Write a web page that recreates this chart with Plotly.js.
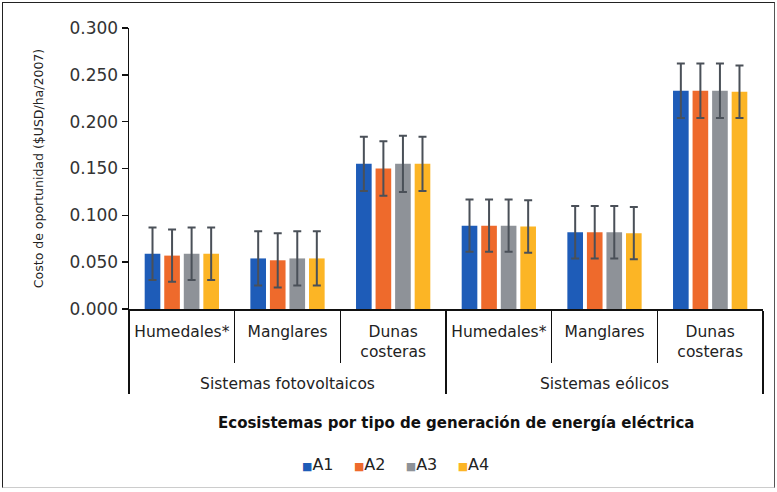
<!DOCTYPE html>
<html>
<head>
<meta charset="utf-8">
<script src="https://cdn.plot.ly/plotly-3.0.1.min.js"></script>
<style>
html,body{margin:0;padding:0;background:#fff;}
#wrap{position:relative;width:777px;height:492px;}
#frame{position:absolute;left:2px;top:2px;width:773px;height:486px;border:1.5px solid #222;border-bottom-color:#ccc;border-right-color:#555;pointer-events:none;box-sizing:border-box;}
</style>
</head>
<body>
<div id="wrap"><div id="chart" style="width:777px;height:492px;"></div><div id="frame"></div></div>
<script>
const groups = ["Sistemas fotovoltaicos","Sistemas fotovoltaicos","Sistemas fotovoltaicos","Sistemas eólicos","Sistemas eólicos","Sistemas eólicos"];
const ecosystems = ["Humedales*","Manglares","Dunas<br>costeras","Humedales*","Manglares","Dunas<br>costeras"];
const seriesNames = ["A1","A2","A3","A4"];
const A1 = [0.059,0.054,0.155,0.089,0.082,0.233];
const A2 = [0.057,0.052,0.150,0.089,0.082,0.233];
const A3 = [0.059,0.054,0.155,0.089,0.082,0.233];
const A4 = [0.059,0.054,0.155,0.088,0.081,0.232];
const err1 = [0.028,0.029,0.029,0.028,0.028,0.029];
const err2 = [0.028,0.029,0.029,0.028,0.028,0.029];
const err3 = [0.028,0.029,0.030,0.028,0.028,0.029];
const err4 = [0.028,0.029,0.029,0.028,0.028,0.028];
const colors = ["#1E5CB8","#EE6A2C","#8E9298","#FCB525"];

const values = [A1,A2,A3,A4];
const errs = [err1,err2,err3,err4];
const F = "DejaVu Sans, Arial, sans-serif";

// group labels pushed one line lower (blank first line)
const groupLabels = groups.map(g => "&nbsp;<br>" + g);

const traces = values.map((v,i)=>({
  type:"bar",
  name:seriesNames[i],
  x:[groupLabels, ecosystems],
  y:v,
  marker:{color:colors[i]},
  error_y:{type:"data",array:errs[i],visible:true,color:"#4a5058",thickness:2,width:4}
}));

const legendText = seriesNames.map((n,i)=>
  `<span style="color:${colors[i]};font-size:11px">■</span>${n}`).join("&nbsp;&nbsp;&nbsp;&nbsp;");

const layout = {
  width:777,height:492,
  margin:{l:129,r:14,t:28,b:183},
  paper_bgcolor:"#fff",plot_bgcolor:"#fff",
  barmode:"group",bargap:0.26,bargroupgap:0.2,
  font:{family:F,color:"#222"},
  showlegend:false,
  yaxis:{range:[0,0.3],dtick:0.05,tickformat:".3f",showgrid:false,zeroline:false,
    showline:true,linecolor:"#111",linewidth:1.5,ticks:"outside",ticklen:6,tickcolor:"#111",tickwidth:1.5,
    tickfont:{family:F,size:17,color:"#333"},
    title:{text:"Costo de oportunidad ($USD/ha/2007)",font:{family:F,size:12.5,color:"#222"},standoff:23}},
  xaxis:{type:"multicategory",showgrid:false,zeroline:false,tickangle:0,
    showline:true,linecolor:"#111",linewidth:1.5,
    ticks:"outside",ticklen:52,tickcolor:"#111",tickwidth:1.5,ticklabelstandoff:8,
    showdividers:true,dividercolor:"#111",dividerwidth:1.5,
    tickfont:{family:F,size:15.5,color:"#222"}},
  annotations:[
    {text:"<b>Ecosistemas por tipo de generación de energía eléctrica</b>",
    xref:"paper",yref:"paper",x:0.516,y:-0.406,xanchor:"center",yanchor:"middle",showarrow:false,
    font:{family:F,size:15,color:"#111"}},
    {text:legendText,xref:"paper",yref:"paper",x:0.42,y:-0.555,xanchor:"center",yanchor:"middle",showarrow:false,
    font:{family:F,size:16,color:"#222"}}
  ]
};

Plotly.newPlot("chart",traces,layout,{displayModeBar:false,staticPlot:true});
</script>
</body>
</html>
